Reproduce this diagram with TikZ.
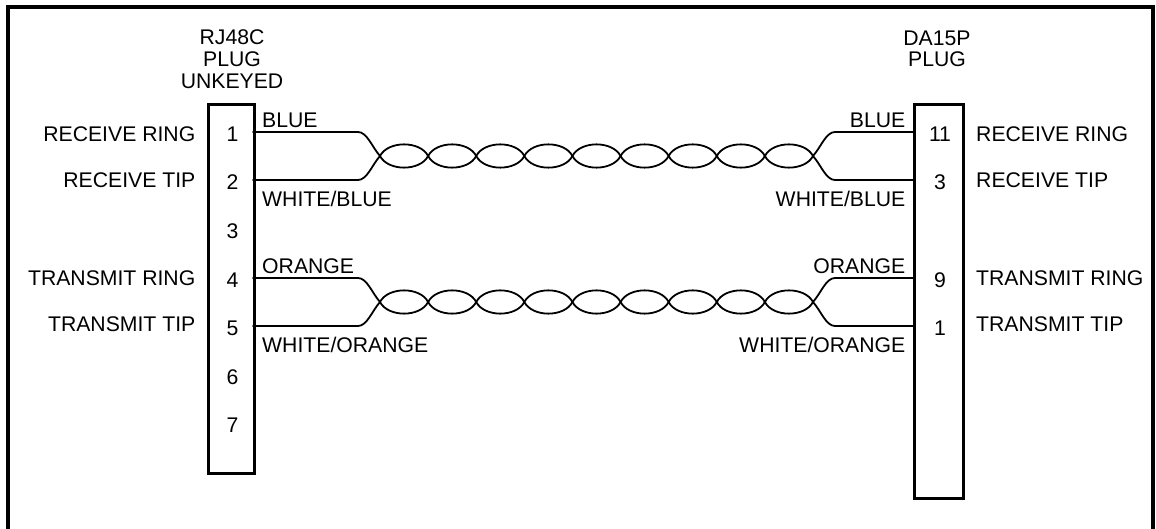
\documentclass[tikz,border=0pt]{standalone}
\usepackage{fontspec}
\setmainfont{Liberation Sans}
\tikzset{
  conn/.style={draw=black,line width=3.2pt,rectangle,anchor=north west,inner sep=0pt},
  lbl/.style={inner sep=0pt,font=\fontsize{21.2}{24}\selectfont,text=black},
  wire/.style={draw=black,line width=1.8pt,line cap=round,line join=round},
}
% \twistwire{from}{to}{wire y}{pair centre y}{first lobe sign}
\newcommand{\twistwire}[5]{%
  \pgfmathsetmacro{\sgn}{#5}%
  \draw[wire] (#1) -- (358,#3) .. controls (367,#3) and (372,#4-9*\sgn) .. (380,#4)
  \foreach \k in {0,...,8}{
    \pgfextra{\pgfmathsetmacro{\xa}{380+48.11*\k}%
      \pgfmathsetmacro{\xb}{\xa+48.11}%
      \pgfmathsetmacro{\ya}{#4+15.5*\sgn*(1-2*mod(\k,2))}}
    .. controls (\xa+8,\ya) and (\xb-8,\ya) .. (\xb,#4)
  }
  .. controls (821,#4-9*\sgn) and (826,#3) .. (835,#3) -- (#2);%
}
\begin{document}
\begin{tikzpicture}[x=1pt,y=-1pt]
\useasboundingbox (0,0) rectangle (1156,529);
\fill[white] (0,0) rectangle (1156,529);
% outer frame, open at the bottom edge
\draw[black,line width=4pt] (8,529) -- (8,7) -- (1153,7) -- (1153,529);
% connectors
\node[conn,minimum width=46pt,minimum height=369pt] (L) at (207,103) {};
\node[conn,minimum width=49pt,minimum height=394pt] (R) at (913,103) {};
% wire terminals
\coordinate (a1) at (253,132);
\coordinate (a2) at (253,180);
\coordinate (a4) at (253,278);
\coordinate (a5) at (253,326);
\coordinate (b11) at (913,132);
\coordinate (b3) at (913,180);
\coordinate (b9) at (913,278);
\coordinate (b1) at (913,326);
% twisted pairs
\twistwire{a1}{b11}{132}{156}{1}
\twistwire{a2}{b3}{180}{156}{-1}
\twistwire{a4}{b9}{278}{302}{1}
\twistwire{a5}{b1}{326}{302}{-1}
% titles
\node[lbl,anchor=base] (tl1) at (232,45) {RJ48C};
\node[lbl,anchor=base] (tl2) at (232,67) {PLUG};
\node[lbl,anchor=base] (tl3) at (232,89) {UNKEYED};
\node[lbl,anchor=base] (tr1) at (937,46) {DA15P};
\node[lbl,anchor=base] (tr2) at (937,67) {PLUG};
% pin numbers left
\foreach \n/\y in {1/132,2/180,3/229,4/278,5/326,6/375,7/423}
  \node[lbl,anchor=center] (pl\n) at (232.5,\y+2) {\n};
% pin numbers right
\foreach \n/\y in {11/132,3/180,9/278,1/326}
  \node[lbl,anchor=center] (pr\n) at (940,\y+2) {\n};
% signal names left
\node[lbl,anchor=east] (sl1) at (195.5,134) {RECEIVE RING};
\node[lbl,anchor=east] (sl2) at (195.5,180) {RECEIVE TIP};
\node[lbl,anchor=east] (sl4) at (195.5,278) {TRANSMIT RING};
\node[lbl,anchor=east] (sl5) at (195.5,324) {TRANSMIT TIP};
% signal names right
\node[lbl,anchor=west] (sr1) at (976,134) {RECEIVE RING};
\node[lbl,anchor=west] (sr2) at (976,180) {RECEIVE TIP};
\node[lbl,anchor=west] (sr4) at (976,278) {TRANSMIT RING};
\node[lbl,anchor=west] (sr5) at (976,324) {TRANSMIT TIP};
% wire colours left
\node[lbl,anchor=west] (cl1) at (262,120) {BLUE};
\node[lbl,anchor=west] (cl2) at (262,199) {WHITE/BLUE};
\node[lbl,anchor=west] (cl4) at (262,266) {ORANGE};
\node[lbl,anchor=west] (cl5) at (262,345) {WHITE/ORANGE};
% wire colours right
\node[lbl,anchor=east] (cr1) at (905.5,120) {BLUE};
\node[lbl,anchor=east] (cr2) at (905.5,199) {WHITE/BLUE};
\node[lbl,anchor=east] (cr4) at (905.5,266) {ORANGE};
\node[lbl,anchor=east] (cr5) at (905.5,345) {WHITE/ORANGE};
\end{tikzpicture}
\end{document}
